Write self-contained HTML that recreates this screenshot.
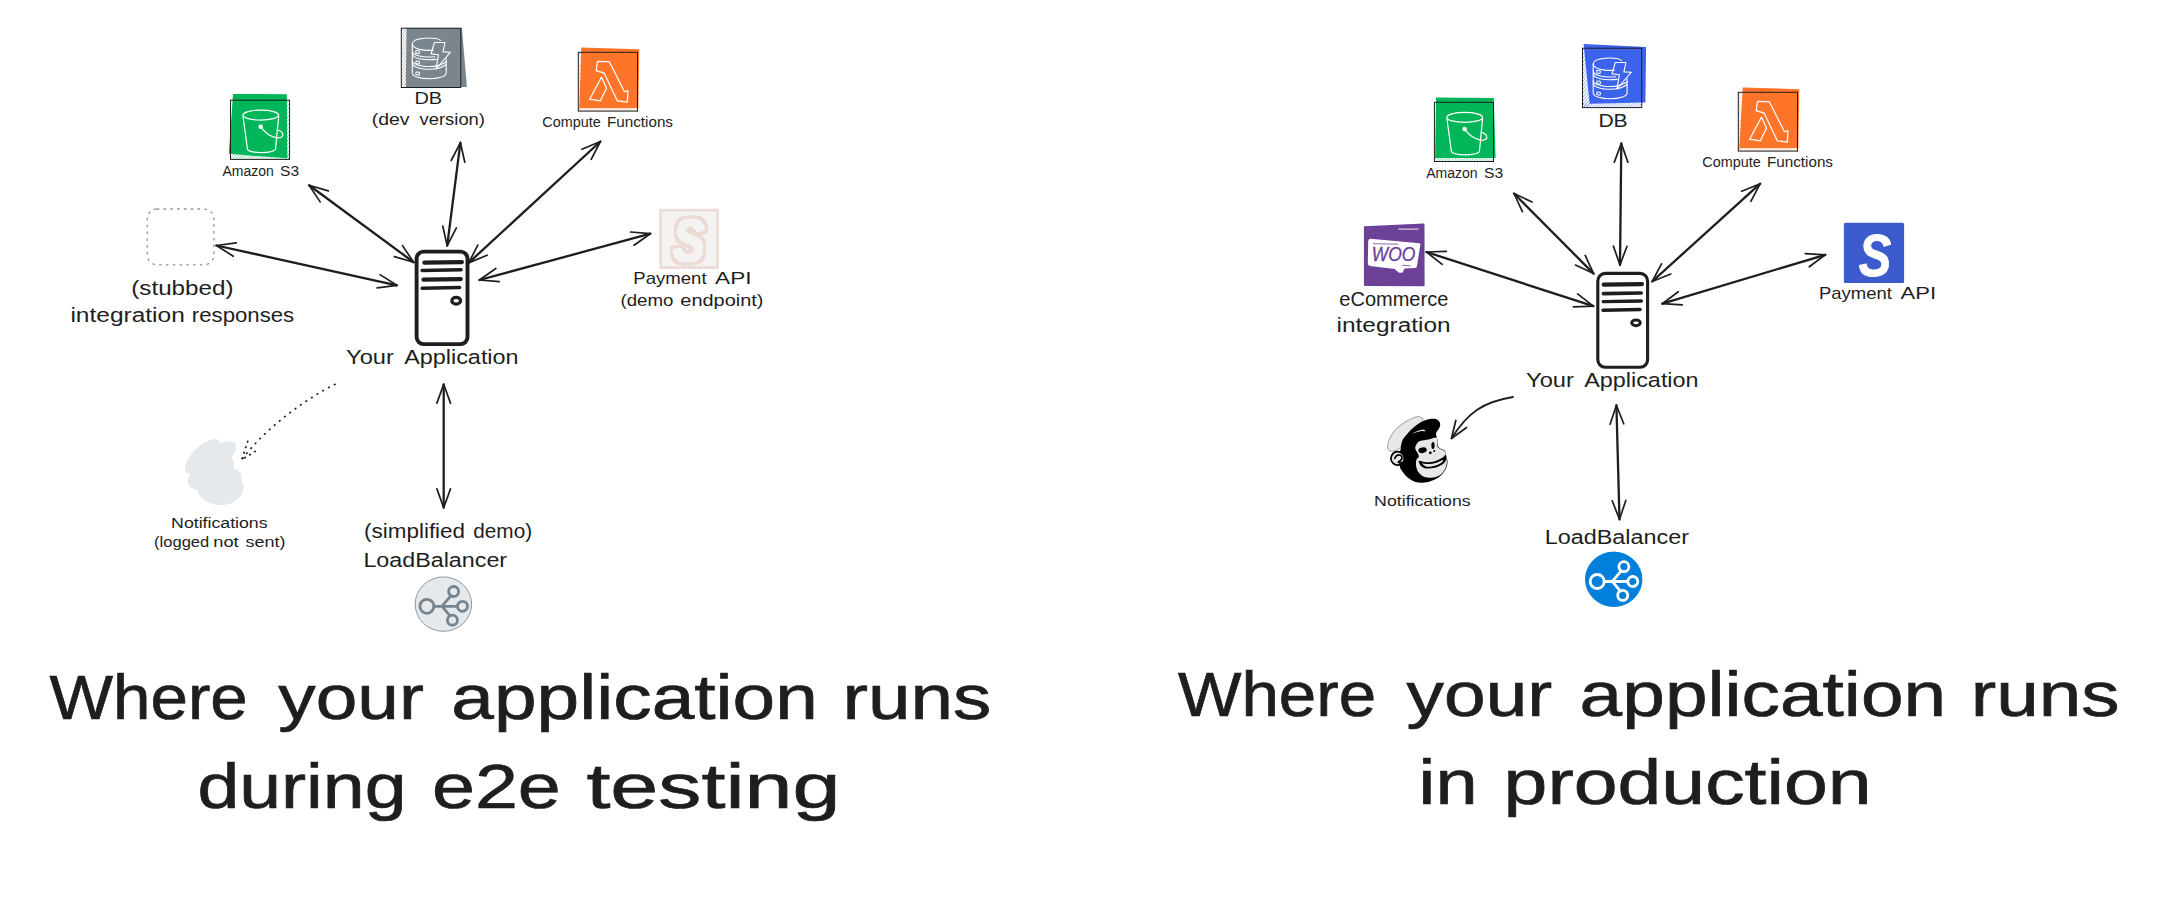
<!DOCTYPE html>
<html><head><meta charset="utf-8"><title>Where your application runs</title>
<style>
html,body{margin:0;padding:0;background:#fff;}
body{width:2182px;height:906px;overflow:hidden;}
svg{display:block;font-family:"Liberation Sans","DejaVu Sans",sans-serif;}
</style></head><body>
<svg width="2182" height="906" viewBox="0 0 2182 906">
<rect width="2182" height="906" fill="#fff"/>
<clipPath id="hc1"><rect x="230.5" y="153.0" width="59.5" height="6.5"/></clipPath>
<path d="M224.0 159.5L228.9 153.0M226.9 159.5L231.8 153.0M229.8 159.5L234.7 153.0M232.7 159.5L237.6 153.0M235.6 159.5L240.5 153.0M238.5 159.5L243.4 153.0M241.4 159.5L246.3 153.0M244.3 159.5L249.2 153.0M247.2 159.5L252.1 153.0M250.1 159.5L255.0 153.0M253.0 159.5L257.9 153.0M255.9 159.5L260.8 153.0M258.8 159.5L263.7 153.0M261.7 159.5L266.6 153.0M264.6 159.5L269.5 153.0M267.5 159.5L272.4 153.0M270.4 159.5L275.3 153.0M273.3 159.5L278.2 153.0M276.2 159.5L281.1 153.0M279.1 159.5L284.0 153.0M282.0 159.5L286.9 153.0M284.9 159.5L289.8 153.0M287.8 159.5L292.7 153.0" stroke="#01b658" stroke-width="1" stroke-opacity="0.5" clip-path="url(#hc1)" fill="none"/>
<clipPath id="hc2"><rect x="286.5" y="100.0" width="3.5" height="59.5"/></clipPath>
<path d="M227.0 159.5L271.6 100.0M229.9 159.5L274.5 100.0M232.8 159.5L277.4 100.0M235.7 159.5L280.3 100.0M238.6 159.5L283.2 100.0M241.5 159.5L286.1 100.0M244.4 159.5L289.0 100.0M247.3 159.5L291.9 100.0M250.2 159.5L294.8 100.0M253.1 159.5L297.7 100.0M256.0 159.5L300.6 100.0M258.9 159.5L303.5 100.0M261.8 159.5L306.4 100.0M264.7 159.5L309.3 100.0M267.6 159.5L312.2 100.0M270.5 159.5L315.1 100.0M273.4 159.5L318.0 100.0M276.3 159.5L320.9 100.0M279.2 159.5L323.8 100.0M282.1 159.5L326.7 100.0M285.0 159.5L329.6 100.0M287.9 159.5L332.5 100.0" stroke="#01b658" stroke-width="1" stroke-opacity="0.5" clip-path="url(#hc2)" fill="none"/>
<polygon points="233,94 286.8,94.2 287.3,158.3 228.8,153.8" fill="#01b658"/>
<rect x="230.5" y="100.2" width="59.1" height="59.2" fill="none" stroke="#1e1e1e" stroke-width="1"/>
<g transform="translate(230.5 100.0)" fill="none" stroke="#fff" stroke-width="1.2" stroke-linecap="round" stroke-linejoin="round">
<ellipse cx="30.3" cy="15.1" rx="17.9" ry="5"/>
<path d="M12.5 16.2L17 49.3C20 53.6 41.5 53.6 45 49.3L48.2 16.2"/>
<circle cx="30.2" cy="26.8" r="2.3" fill="#fff" stroke="none"/>
<path d="M30.2 26.8C34 32 40 36.5 45.6 37.6C50 38.4 53 37 52.3 34C51.6 31.6 49 30.3 46.6 30"/>
</g>
<text y="175.5" font-size="13.8" fill="#1e1e1e" ><tspan x="222.5" textLength="51.3" lengthAdjust="spacingAndGlyphs">Amazon</tspan> <tspan x="280.1" textLength="19.0" lengthAdjust="spacingAndGlyphs">S3</tspan></text>
<clipPath id="hc3"><rect x="401.3" y="28.2" width="5.7" height="59.3"/></clipPath>
<path d="M342.0 87.5L386.5 28.2M344.9 87.5L389.4 28.2M347.8 87.5L392.3 28.2M350.7 87.5L395.2 28.2M353.6 87.5L398.1 28.2M356.5 87.5L401.0 28.2M359.4 87.5L403.9 28.2M362.3 87.5L406.8 28.2M365.2 87.5L409.7 28.2M368.1 87.5L412.6 28.2M371.0 87.5L415.5 28.2M373.9 87.5L418.4 28.2M376.8 87.5L421.3 28.2M379.7 87.5L424.2 28.2M382.6 87.5L427.1 28.2M385.5 87.5L430.0 28.2M388.4 87.5L432.9 28.2M391.3 87.5L435.8 28.2M394.2 87.5L438.7 28.2M397.1 87.5L441.6 28.2M400.0 87.5L444.5 28.2M402.9 87.5L447.4 28.2M405.8 87.5L450.3 28.2" stroke="#7a858e" stroke-width="1" stroke-opacity="0.5" clip-path="url(#hc3)" fill="none"/>
<polygon points="406.6,28 461.9,28 466.9,86.9 405.8,86.9" fill="#7a858e"/>
<rect x="401.3" y="28.2" width="59.5" height="59.3" fill="none" stroke="#1e1e1e" stroke-width="1"/>
<g transform="translate(401.3 28.2)" fill="none" stroke="#fff" stroke-width="1.1" stroke-linejoin="round" stroke-linecap="round">
<path d="M11 15.9L11 44.6C11 52.6 44.9 52.6 44.9 44.6L44.9 30.5"/>
<path d="M39.4 12.2C34 8.6 11 8.8 11 15.9C11 20.5 22 23 32 21.9"/>
<path d="M11 22.6C11 27.5 22 29.6 33.5 28.6"/>
<path d="M11 25C11 30.4 22 32.4 35 31.2"/>
<path d="M11 32.4C11 39 35 41 44.9 33.5"/>
<path d="M11 34.8C11 41.8 35 43.8 44.9 36.3"/>
<rect x="14.6" y="22.3" width="3.6" height="2.8" rx="0.8" transform="rotate(8 16 23)"/><rect x="14.6" y="32.9" width="3.6" height="2.8" rx="0.8" transform="rotate(8 16 34)"/><rect x="14.6" y="43.9" width="3.6" height="2.8" rx="0.8" transform="rotate(8 16 45)"/>
<path d="M33.1 14.3L43.7 14.3L41.7 23.7L49 24.1L34.7 40.8L37.2 26.6L29.8 25.7Z"/>
</g>
<text x="414.4" y="104.3" font-size="17" textLength="27.7" lengthAdjust="spacingAndGlyphs" fill="#1e1e1e" >DB</text>
<text y="125.3" font-size="17" fill="#1e1e1e" ><tspan x="371.7" textLength="37.8" lengthAdjust="spacingAndGlyphs">(dev</tspan> <tspan x="419.5" textLength="65.5" lengthAdjust="spacingAndGlyphs">version)</tspan></text>
<clipPath id="hc4"><rect x="578.3" y="107.8" width="59.2" height="3.3"/></clipPath>
<path d="M575.0 111.1L577.5 107.8M577.9 111.1L580.4 107.8M580.8 111.1L583.3 107.8M583.7 111.1L586.2 107.8M586.6 111.1L589.1 107.8M589.5 111.1L592.0 107.8M592.4 111.1L594.9 107.8M595.3 111.1L597.8 107.8M598.2 111.1L600.7 107.8M601.1 111.1L603.6 107.8M604.0 111.1L606.5 107.8M606.9 111.1L609.4 107.8M609.8 111.1L612.3 107.8M612.7 111.1L615.2 107.8M615.6 111.1L618.1 107.8M618.5 111.1L621.0 107.8M621.4 111.1L623.9 107.8M624.3 111.1L626.8 107.8M627.2 111.1L629.7 107.8M630.1 111.1L632.6 107.8M633.0 111.1L635.5 107.8M635.9 111.1L638.4 107.8" stroke="#fe7429" stroke-width="1" stroke-opacity="0.5" clip-path="url(#hc4)" fill="none"/>
<clipPath id="hc5"><rect x="578.3" y="52.3" width="2.2" height="58.8"/></clipPath>
<path d="M519.5 111.1L563.6 52.3M522.4 111.1L566.5 52.3M525.3 111.1L569.4 52.3M528.2 111.1L572.3 52.3M531.1 111.1L575.2 52.3M534.0 111.1L578.1 52.3M536.9 111.1L581.0 52.3M539.8 111.1L583.9 52.3M542.7 111.1L586.8 52.3M545.6 111.1L589.7 52.3M548.5 111.1L592.6 52.3M551.4 111.1L595.5 52.3M554.3 111.1L598.4 52.3M557.2 111.1L601.3 52.3M560.1 111.1L604.2 52.3M563.0 111.1L607.1 52.3M565.9 111.1L610.0 52.3M568.8 111.1L612.9 52.3M571.7 111.1L615.8 52.3M574.6 111.1L618.7 52.3M577.5 111.1L621.6 52.3M580.4 111.1L624.5 52.3" stroke="#fe7429" stroke-width="1" stroke-opacity="0.5" clip-path="url(#hc5)" fill="none"/>
<polygon points="581.3,47.5 639.3,49.2 638.3,108.1 579.3,108.1" fill="#fe7429"/>
<rect x="578.3" y="52.3" width="59.2" height="58.8" fill="none" stroke="#1e1e1e" stroke-width="1"/>
<g transform="translate(578.3 52.3)" fill="none" stroke="#fff" stroke-width="1.2" stroke-linejoin="round">
<path d="M19.2 9.1L31.1 9.5L46 39.3L49.7 38.6L49 49.9L39.1 48.6L25.8 20.8L17.9 18.3Z"/>
<path d="M23.2 24.8L28.2 36L21.9 48.6L11.3 46.9Z"/>
</g>
<text y="126.5" font-size="13.8" fill="#1e1e1e" ><tspan x="542.3" textLength="58.5" lengthAdjust="spacingAndGlyphs">Compute</tspan> <tspan x="606.9" textLength="66.1" lengthAdjust="spacingAndGlyphs">Functions</tspan></text>
<rect x="147.2" y="209" width="66.7" height="55.8" rx="10" ry="10" fill="none" stroke="#8493a0" stroke-width="1.3" stroke-dasharray="1.6 5.2" stroke-linecap="round"/>
<text x="131.3" y="295.1" font-size="19.5" textLength="102.2" lengthAdjust="spacingAndGlyphs" fill="#1e1e1e" >(stubbed)</text>
<text y="321.6" font-size="19.5" fill="#1e1e1e" ><tspan x="70.4" textLength="114.4" lengthAdjust="spacingAndGlyphs">integration</tspan> <tspan x="191.8" textLength="102.4" lengthAdjust="spacingAndGlyphs">responses</tspan></text>
<rect x="660.7" y="210.2" width="56.8" height="57.3" fill="#f5f3f2" stroke="#ecdcd6" stroke-width="2.8"/>
<filter id="fatS" x="-30%" y="-30%" width="160%" height="160%"><feMorphology in="SourceAlpha" operator="dilate" radius="3.6" result="o"/><feGaussianBlur in="o" stdDeviation="0.6" result="ob"/><feComponentTransfer in="ob" result="oc"><feFuncA type="linear" slope="6" intercept="-2.5"/></feComponentTransfer><feFlood flood-color="#ecdad4"/><feComposite in2="oc" operator="in" result="ring"/><feMorphology in="SourceAlpha" operator="dilate" radius="0.9" result="i"/><feGaussianBlur in="i" stdDeviation="0.5" result="ib"/><feComponentTransfer in="ib" result="ic"><feFuncA type="linear" slope="6" intercept="-2.5"/></feComponentTransfer><feFlood flood-color="#f5f3f2"/><feComposite in2="ic" operator="in" result="body"/><feMerge><feMergeNode in="ring"/><feMergeNode in="body"/></feMerge></filter>
<text x="673.6" y="260.9" font-size="59.5" textLength="30.9" lengthAdjust="spacingAndGlyphs" fill="#f5f3f2" font-weight="bold" font-style="italic" filter="url(#fatS)">S</text>
<text y="284.3" font-size="17" fill="#1e1e1e" ><tspan x="633.3" textLength="73.3" lengthAdjust="spacingAndGlyphs">Payment</tspan> <tspan x="715.1" textLength="36.5" lengthAdjust="spacingAndGlyphs">API</tspan></text>
<text y="305.9" font-size="17" fill="#1e1e1e" ><tspan x="620.5" textLength="52.9" lengthAdjust="spacingAndGlyphs">(demo</tspan> <tspan x="680.3" textLength="83.2" lengthAdjust="spacingAndGlyphs">endpoint)</tspan></text>
<path d="M309.1 185.3L413.6 262.2" fill="none" stroke="#1e1e1e" stroke-width="2.3" stroke-linecap="round"/>
<path d="M394.4 256.6L413.6 262.2L402.5 245.6M328.3 190.9L309.1 185.3L320.2 201.9" fill="none" stroke="#1e1e1e" stroke-width="1.7" stroke-linecap="round" stroke-linejoin="round"/>
<path d="M460.4 142.7L447.2 245.7" fill="none" stroke="#1e1e1e" stroke-width="2.3" stroke-linecap="round"/>
<path d="M442.8 226.2L447.2 245.7L456.4 227.9M464.8 162.2L460.4 142.7L451.2 160.5" fill="none" stroke="#1e1e1e" stroke-width="1.7" stroke-linecap="round" stroke-linejoin="round"/>
<path d="M600.4 141.5L468.6 262.9" fill="none" stroke="#1e1e1e" stroke-width="2.3" stroke-linecap="round"/>
<path d="M477.8 245.1L468.6 262.9L487.1 255.2M591.2 159.3L600.4 141.5L581.9 149.2" fill="none" stroke="#1e1e1e" stroke-width="1.7" stroke-linecap="round" stroke-linejoin="round"/>
<path d="M650.4 233.7L479.4 280.0" fill="none" stroke="#1e1e1e" stroke-width="2.3" stroke-linecap="round"/>
<path d="M495.8 268.5L479.4 280.0L499.3 281.7M634.0 245.2L650.4 233.7L630.5 232.0" fill="none" stroke="#1e1e1e" stroke-width="1.7" stroke-linecap="round" stroke-linejoin="round"/>
<path d="M216.4 245.5L396.9 285.3" fill="none" stroke="#1e1e1e" stroke-width="2.3" stroke-linecap="round"/>
<path d="M377.1 287.9L396.9 285.3L380.0 274.6M236.2 242.9L216.4 245.5L233.3 256.2" fill="none" stroke="#1e1e1e" stroke-width="1.7" stroke-linecap="round" stroke-linejoin="round"/>
<g stroke="#1e1e1e" fill="none" stroke-linecap="round">
<rect x="416.6" y="251.6" width="50.9" height="92.5" rx="7.0" stroke-width="3.9" fill="#fff"/>
<line x1="424.4" y1="262.7" x2="461.9" y2="262.1" stroke-width="4.2"/>
<line x1="422.1" y1="270.4" x2="461.1" y2="269.8" stroke-width="3.5"/>
<line x1="423.5" y1="279.7" x2="460.8" y2="279.1" stroke-width="4.2"/>
<line x1="422.1" y1="288.2" x2="459.6" y2="287.6" stroke-width="3.5"/>
<ellipse cx="456.2" cy="300.7" rx="4.4" ry="3.4" stroke-width="3.2"/>
</g>
<text y="364.1" font-size="20.5" fill="#1e1e1e" ><tspan x="346.1" textLength="47.8" lengthAdjust="spacingAndGlyphs">Your</tspan> <tspan x="404.2" textLength="114.4" lengthAdjust="spacingAndGlyphs">Application</tspan></text>
<path d="M335 384.3C300 402 262 432 241.7 459.8" fill="none" stroke="#1e1e1e" stroke-width="1.7" stroke-dasharray="0.6 6" stroke-linecap="round"/>
<path d="M247.7 441.3L241.7 459.8L258.2 449.5" fill="none" stroke="#1e1e1e" stroke-width="1.7" stroke-dasharray="0.6 5.2" stroke-linecap="round"/>
<path d="M184.90 468.57C185.18 466.45 185.91 462.86 187.66 459.74C189.41 456.61 192.44 452.74 195.39 449.80C198.33 446.86 202.19 443.88 205.32 442.08C208.45 440.27 211.94 439.26 214.15 438.98C216.36 438.71 217.46 439.81 218.57 440.42C219.67 441.03 219.30 442.44 220.77 442.63C222.24 442.81 225.19 441.62 227.40 441.52C229.60 441.43 232.55 441.25 234.02 442.08C235.49 442.90 236.04 444.83 236.23 446.49C236.41 448.15 235.86 450.26 235.12 452.01C234.39 453.76 232.03 455.32 231.81 456.98C231.59 458.63 233.43 460.01 233.80 461.94C234.16 463.87 232.88 466.73 234.02 468.57C235.16 470.40 239.35 470.77 240.64 472.98C241.93 475.19 241.23 479.60 241.74 481.81C242.26 484.02 243.73 484.20 243.73 486.23C243.73 488.25 243.18 491.47 241.74 493.95C240.31 496.43 237.88 499.32 235.12 501.13C232.36 502.93 228.68 504.22 225.19 504.77C221.69 505.32 217.46 505.14 214.15 504.44C210.84 503.74 207.80 502.14 205.32 500.57C202.84 499.01 200.54 496.71 199.25 495.06C197.96 493.40 199.07 491.93 197.59 490.64C196.12 489.35 192.08 488.80 190.42 487.33C188.76 485.86 187.94 483.65 187.66 481.81C187.38 479.97 188.30 477.58 188.76 476.29C189.22 475.00 190.88 474.73 190.42 474.08C189.96 473.44 186.92 473.35 186.00 472.43C185.08 471.51 184.62 470.68 184.90 468.57Z" fill="#e6e9ec"/>
<text x="171.1" y="528.3" font-size="14" textLength="96.5" lengthAdjust="spacingAndGlyphs" fill="#1e1e1e" >Notifications</text>
<text y="547.2" font-size="14" fill="#1e1e1e" ><tspan x="154.1" textLength="55.1" lengthAdjust="spacingAndGlyphs">(logged</tspan> <tspan x="213.3" textLength="25.4" lengthAdjust="spacingAndGlyphs">not</tspan> <tspan x="245.5" textLength="39.9" lengthAdjust="spacingAndGlyphs">sent)</tspan></text>
<path d="M443.7 384.3L443.7 507.7" fill="none" stroke="#1e1e1e" stroke-width="2.3" stroke-linecap="round"/>
<path d="M436.9 488.9L443.7 507.7L450.5 488.9M450.5 403.1L443.7 384.3L436.9 403.1" fill="none" stroke="#1e1e1e" stroke-width="1.7" stroke-linecap="round" stroke-linejoin="round"/>
<text y="538.4" font-size="19.5" fill="#1e1e1e" ><tspan x="364.0" textLength="101.1" lengthAdjust="spacingAndGlyphs">(simplified</tspan> <tspan x="473.3" textLength="58.8" lengthAdjust="spacingAndGlyphs">demo)</tspan></text>
<text x="363.4" y="566.5" font-size="19.5" textLength="143.7" lengthAdjust="spacingAndGlyphs" fill="#1e1e1e" >LoadBalancer</text>
<g transform="translate(443.4 604.1)">
<ellipse cx="0" cy="0" rx="28.2" ry="27.2" fill="#e5e9ec" stroke="#8c98a3" stroke-width="1"/>
<g fill="none" stroke="#77848f" stroke-width="2.8" stroke-linecap="round">
<circle cx="-16.5" cy="2.2" r="7"/>
<circle cx="10.2" cy="-12.6" r="5"/><circle cx="19.1" cy="2.2" r="5"/><circle cx="9" cy="16.1" r="5"/>
<path d="M-9.5 2.2L14 2.2M-1.4 2L7.6 -8.4M-1.4 2L6.6 11.8"/>
</g></g>
<text y="719.3" font-size="63" fill="#1e1e1e" stroke="#1e1e1e" stroke-width="0.7"><tspan x="49.6" textLength="198.2" lengthAdjust="spacingAndGlyphs">Where</tspan> <tspan x="278.3" textLength="145.6" lengthAdjust="spacingAndGlyphs">your</tspan> <tspan x="451.3" textLength="366.6" lengthAdjust="spacingAndGlyphs">application</tspan> <tspan x="842.5" textLength="148.8" lengthAdjust="spacingAndGlyphs">runs</tspan></text>
<text y="807.6" font-size="63" fill="#1e1e1e" stroke="#1e1e1e" stroke-width="0.7"><tspan x="197.4" textLength="209.1" lengthAdjust="spacingAndGlyphs">during</tspan> <tspan x="432.0" textLength="128.8" lengthAdjust="spacingAndGlyphs">e2e</tspan> <tspan x="586.4" textLength="254.1" lengthAdjust="spacingAndGlyphs">testing</tspan></text>
<clipPath id="hc6"><rect x="1434.4" y="157.5" width="59.6" height="4.0"/></clipPath>
<path d="M1430.4 161.5L1433.4 157.5M1433.3 161.5L1436.3 157.5M1436.2 161.5L1439.2 157.5M1439.1 161.5L1442.1 157.5M1442.0 161.5L1445.0 157.5M1444.9 161.5L1447.9 157.5M1447.8 161.5L1450.8 157.5M1450.7 161.5L1453.7 157.5M1453.6 161.5L1456.6 157.5M1456.5 161.5L1459.5 157.5M1459.4 161.5L1462.4 157.5M1462.3 161.5L1465.3 157.5M1465.2 161.5L1468.2 157.5M1468.1 161.5L1471.1 157.5M1471.0 161.5L1474.0 157.5M1473.9 161.5L1476.9 157.5M1476.8 161.5L1479.8 157.5M1479.7 161.5L1482.7 157.5M1482.6 161.5L1485.6 157.5M1485.5 161.5L1488.5 157.5M1488.4 161.5L1491.4 157.5M1491.3 161.5L1494.3 157.5" stroke="#01b658" stroke-width="1" stroke-opacity="0.5" clip-path="url(#hc6)" fill="none"/>
<polygon points="1436,97.5 1493.8,97.9 1495.6,158.1 1435.1,157.9" fill="#01b658"/>
<rect x="1434.4" y="102.3" width="59.1" height="59.2" fill="none" stroke="#1e1e1e" stroke-width="1"/>
<g transform="translate(1434.4 102.3)" fill="none" stroke="#fff" stroke-width="1.2" stroke-linecap="round" stroke-linejoin="round">
<ellipse cx="30.3" cy="15.1" rx="17.9" ry="5"/>
<path d="M12.5 16.2L17 49.3C20 53.6 41.5 53.6 45 49.3L48.2 16.2"/>
<circle cx="30.2" cy="26.8" r="2.3" fill="#fff" stroke="none"/>
<path d="M30.2 26.8C34 32 40 36.5 45.6 37.6C50 38.4 53 37 52.3 34C51.6 31.6 49 30.3 46.6 30"/>
</g>
<text y="177.6" font-size="13.8" fill="#1e1e1e" ><tspan x="1426.2" textLength="51.5" lengthAdjust="spacingAndGlyphs">Amazon</tspan> <tspan x="1484.1" textLength="19.2" lengthAdjust="spacingAndGlyphs">S3</tspan></text>
<clipPath id="hc7"><rect x="1582.2" y="48.2" width="7.8" height="59.5"/></clipPath>
<path d="M1522.7 107.7L1567.3 48.2M1525.6 107.7L1570.2 48.2M1528.5 107.7L1573.1 48.2M1531.4 107.7L1576.0 48.2M1534.3 107.7L1578.9 48.2M1537.2 107.7L1581.8 48.2M1540.1 107.7L1584.7 48.2M1543.0 107.7L1587.6 48.2M1545.9 107.7L1590.5 48.2M1548.8 107.7L1593.4 48.2M1551.7 107.7L1596.3 48.2M1554.6 107.7L1599.2 48.2M1557.5 107.7L1602.1 48.2M1560.4 107.7L1605.0 48.2M1563.3 107.7L1607.9 48.2M1566.2 107.7L1610.8 48.2M1569.1 107.7L1613.7 48.2M1572.0 107.7L1616.6 48.2M1574.9 107.7L1619.5 48.2M1577.8 107.7L1622.4 48.2M1580.7 107.7L1625.3 48.2M1583.6 107.7L1628.2 48.2M1586.5 107.7L1631.1 48.2M1589.4 107.7L1634.0 48.2" stroke="#3c63ec" stroke-width="1" stroke-opacity="0.5" clip-path="url(#hc7)" fill="none"/>
<clipPath id="hc8"><rect x="1582.2" y="103.0" width="59.6" height="4.7"/></clipPath>
<path d="M1577.5 107.7L1581.0 103.0M1580.4 107.7L1583.9 103.0M1583.3 107.7L1586.8 103.0M1586.2 107.7L1589.7 103.0M1589.1 107.7L1592.6 103.0M1592.0 107.7L1595.5 103.0M1594.9 107.7L1598.4 103.0M1597.8 107.7L1601.3 103.0M1600.7 107.7L1604.2 103.0M1603.6 107.7L1607.1 103.0M1606.5 107.7L1610.0 103.0M1609.4 107.7L1612.9 103.0M1612.3 107.7L1615.8 103.0M1615.2 107.7L1618.7 103.0M1618.1 107.7L1621.6 103.0M1621.0 107.7L1624.5 103.0M1623.9 107.7L1627.4 103.0M1626.8 107.7L1630.3 103.0M1629.7 107.7L1633.2 103.0M1632.6 107.7L1636.1 103.0M1635.5 107.7L1639.0 103.0M1638.4 107.7L1641.9 103.0M1641.3 107.7L1644.8 103.0" stroke="#3c63ec" stroke-width="1" stroke-opacity="0.5" clip-path="url(#hc8)" fill="none"/>
<polygon points="1583.6,44.1 1646.1,47 1645.4,102.5 1589.7,103.8" fill="#3c63ec"/>
<rect x="1582.5" y="48.2" width="59.2" height="59.4" fill="none" stroke="#1e1e1e" stroke-width="1"/>
<g transform="translate(1582.2 48.2)" fill="none" stroke="#fff" stroke-width="1.1" stroke-linejoin="round" stroke-linecap="round">
<path d="M11 15.9L11 44.6C11 52.6 44.9 52.6 44.9 44.6L44.9 30.5"/>
<path d="M39.4 12.2C34 8.6 11 8.8 11 15.9C11 20.5 22 23 32 21.9"/>
<path d="M11 22.6C11 27.5 22 29.6 33.5 28.6"/>
<path d="M11 25C11 30.4 22 32.4 35 31.2"/>
<path d="M11 32.4C11 39 35 41 44.9 33.5"/>
<path d="M11 34.8C11 41.8 35 43.8 44.9 36.3"/>
<rect x="14.6" y="22.3" width="3.6" height="2.8" rx="0.8" transform="rotate(8 16 23)"/><rect x="14.6" y="32.9" width="3.6" height="2.8" rx="0.8" transform="rotate(8 16 34)"/><rect x="14.6" y="43.9" width="3.6" height="2.8" rx="0.8" transform="rotate(8 16 45)"/>
<path d="M33.1 14.3L43.7 14.3L41.7 23.7L49 24.1L34.7 40.8L37.2 26.6L29.8 25.7Z"/>
</g>
<text x="1598.4" y="126.6" font-size="18" textLength="29.3" lengthAdjust="spacingAndGlyphs" fill="#1e1e1e" >DB</text>
<clipPath id="hc9"><rect x="1738.3" y="147.8" width="59.2" height="3.3"/></clipPath>
<path d="M1735.0 151.1L1737.5 147.8M1737.9 151.1L1740.4 147.8M1740.8 151.1L1743.3 147.8M1743.7 151.1L1746.2 147.8M1746.6 151.1L1749.1 147.8M1749.5 151.1L1752.0 147.8M1752.4 151.1L1754.9 147.8M1755.3 151.1L1757.8 147.8M1758.2 151.1L1760.7 147.8M1761.1 151.1L1763.6 147.8M1764.0 151.1L1766.5 147.8M1766.9 151.1L1769.4 147.8M1769.8 151.1L1772.3 147.8M1772.7 151.1L1775.2 147.8M1775.6 151.1L1778.1 147.8M1778.5 151.1L1781.0 147.8M1781.4 151.1L1783.9 147.8M1784.3 151.1L1786.8 147.8M1787.2 151.1L1789.7 147.8M1790.1 151.1L1792.6 147.8M1793.0 151.1L1795.5 147.8M1795.9 151.1L1798.4 147.8" stroke="#fe7429" stroke-width="1" stroke-opacity="0.5" clip-path="url(#hc9)" fill="none"/>
<clipPath id="hc10"><rect x="1738.3" y="92.3" width="2.2" height="58.8"/></clipPath>
<path d="M1679.5 151.1L1723.6 92.3M1682.4 151.1L1726.5 92.3M1685.3 151.1L1729.4 92.3M1688.2 151.1L1732.3 92.3M1691.1 151.1L1735.2 92.3M1694.0 151.1L1738.1 92.3M1696.9 151.1L1741.0 92.3M1699.8 151.1L1743.9 92.3M1702.7 151.1L1746.8 92.3M1705.6 151.1L1749.7 92.3M1708.5 151.1L1752.6 92.3M1711.4 151.1L1755.5 92.3M1714.3 151.1L1758.4 92.3M1717.2 151.1L1761.3 92.3M1720.1 151.1L1764.2 92.3M1723.0 151.1L1767.1 92.3M1725.9 151.1L1770.0 92.3M1728.8 151.1L1772.9 92.3M1731.7 151.1L1775.8 92.3M1734.6 151.1L1778.7 92.3M1737.5 151.1L1781.6 92.3M1740.4 151.1L1784.5 92.3" stroke="#fe7429" stroke-width="1" stroke-opacity="0.5" clip-path="url(#hc10)" fill="none"/>
<polygon points="1742.7,87.5 1799.3,89.2 1798.3,148.1 1739.3,148.1" fill="#fe7429"/>
<rect x="1738.3" y="92.3" width="59.2" height="58.8" fill="none" stroke="#1e1e1e" stroke-width="1"/>
<g transform="translate(1738.3 92.3)" fill="none" stroke="#fff" stroke-width="1.2" stroke-linejoin="round">
<path d="M19.2 9.1L31.1 9.5L46 39.3L49.7 38.6L49 49.9L39.1 48.6L25.8 20.8L17.9 18.3Z"/>
<path d="M23.2 24.8L28.2 36L21.9 48.6L11.3 46.9Z"/>
</g>
<text y="166.6" font-size="13.8" fill="#1e1e1e" ><tspan x="1702.3" textLength="58.5" lengthAdjust="spacingAndGlyphs">Compute</tspan> <tspan x="1766.9" textLength="66.1" lengthAdjust="spacingAndGlyphs">Functions</tspan></text>
<path d="M1364.7 227L1423.7 224.4L1423.8 285.5L1364.7 285.1Z" fill="#6d4197" stroke="#6d4197" stroke-width="1.6" stroke-linejoin="round"/>
<path d="M1398.3 229.1L1418.6 229.1" stroke="#fff" stroke-width="0.9"/>
<path d="M1370.6 238.7L1419.3 243.2Q1420.6 243.4 1420.4 244.6L1416.9 266.4Q1416.6 267.8 1415.2 267.9L1404.6 268.4L1403 271.8Q1402.6 272.7 1401.4 272.7L1399.6 272.7Q1398.7 272.7 1398 272L1394.7 268.9L1370.1 266Q1368 265.6 1367.8 263.4L1368.2 241.5Q1368.4 238.6 1370.6 238.7Z" fill="#fff"/>
<text x="1371.8" y="261.4" font-size="19.8" textLength="43.6" lengthAdjust="spacingAndGlyphs" fill="#6d4197" font-style="italic" stroke="#6d4197" stroke-width="0.3">WOO</text>
<path d="M1372.7 243.7L1398.3 244.2M1402.2 265.3L1410.6 265.8" stroke="#6d4197" stroke-width="0.8" fill="none"/>
<text x="1339.3" y="305.8" font-size="19.5" textLength="109.0" lengthAdjust="spacingAndGlyphs" fill="#1e1e1e" >eCommerce</text>
<text x="1336.6" y="332.1" font-size="19.5" textLength="114.0" lengthAdjust="spacingAndGlyphs" fill="#1e1e1e" >integration</text>
<rect x="1843.9" y="222.8" width="60.2" height="60.3" rx="1.5" fill="#3c5ccd"/>
<text x="1858.7" y="276.0" font-size="60" textLength="32.5" lengthAdjust="spacingAndGlyphs" fill="#fff" font-weight="bold" font-style="italic" stroke="#fff" stroke-width="0.9" stroke-linejoin="round">S</text>
<text y="299.0" font-size="17" fill="#1e1e1e" ><tspan x="1819.0" textLength="72.9" lengthAdjust="spacingAndGlyphs">Payment</tspan> <tspan x="1900.6" textLength="35.6" lengthAdjust="spacingAndGlyphs">API</tspan></text>
<path d="M1514.0 193.5L1593.6 273.6" fill="none" stroke="#1e1e1e" stroke-width="2.3" stroke-linecap="round"/>
<path d="M1575.5 265.1L1593.6 273.6L1585.2 255.4M1532.1 202.0L1514.0 193.5L1522.4 211.7" fill="none" stroke="#1e1e1e" stroke-width="1.7" stroke-linecap="round" stroke-linejoin="round"/>
<path d="M1621.3 143.4L1620.0 265.0" fill="none" stroke="#1e1e1e" stroke-width="2.3" stroke-linecap="round"/>
<path d="M1613.4 246.1L1620.0 265.0L1627.0 246.3M1627.9 162.3L1621.3 143.4L1614.3 162.1" fill="none" stroke="#1e1e1e" stroke-width="1.7" stroke-linecap="round" stroke-linejoin="round"/>
<path d="M1760.2 183.7L1652.2 281.5" fill="none" stroke="#1e1e1e" stroke-width="2.3" stroke-linecap="round"/>
<path d="M1661.5 263.8L1652.2 281.5L1670.7 274.0M1750.9 201.4L1760.2 183.7L1741.7 191.2" fill="none" stroke="#1e1e1e" stroke-width="1.7" stroke-linecap="round" stroke-linejoin="round"/>
<path d="M1825.3 254.8L1662.3 303.7" fill="none" stroke="#1e1e1e" stroke-width="2.3" stroke-linecap="round"/>
<path d="M1678.3 291.7L1662.3 303.7L1682.3 304.9M1809.3 266.8L1825.3 254.8L1805.3 253.6" fill="none" stroke="#1e1e1e" stroke-width="1.7" stroke-linecap="round" stroke-linejoin="round"/>
<path d="M1426.4 252.0L1593.4 306.2" fill="none" stroke="#1e1e1e" stroke-width="2.3" stroke-linecap="round"/>
<path d="M1573.4 306.9L1593.4 306.2L1577.6 293.9M1446.4 251.3L1426.4 252.0L1442.2 264.3" fill="none" stroke="#1e1e1e" stroke-width="1.7" stroke-linecap="round" stroke-linejoin="round"/>
<g stroke="#1e1e1e" fill="none" stroke-linecap="round">
<rect x="1597.8" y="273.4" width="49.8" height="93.9" rx="7.5" stroke-width="3.1" fill="#fff"/>
<line x1="1603.7" y1="284.7" x2="1642.0" y2="284.1" stroke-width="4.2"/>
<line x1="1603.4" y1="293.6" x2="1641.2" y2="293.0" stroke-width="3.6"/>
<line x1="1603.3" y1="301.6" x2="1641.3" y2="301.0" stroke-width="3.4"/>
<line x1="1603.0" y1="310.2" x2="1640.0" y2="309.6" stroke-width="3.5"/>
<ellipse cx="1636.0" cy="322.8" rx="4.3" ry="2.9" stroke-width="3"/>
</g>
<text y="387.4" font-size="20.5" fill="#1e1e1e" ><tspan x="1526.1" textLength="47.8" lengthAdjust="spacingAndGlyphs">Your</tspan> <tspan x="1584.2" textLength="114.4" lengthAdjust="spacingAndGlyphs">Application</tspan></text>
<path d="M1513 397C1483 402 1468 412 1451.5 438.4" fill="none" stroke="#1e1e1e" stroke-width="1.8" stroke-linecap="round"/>
<path d="M1455.8 420.5L1451.5 438.4L1466.6 427.6" fill="none" stroke="#1e1e1e" stroke-width="1.8" stroke-linecap="round" stroke-linejoin="round"/>
<g>
<path d="M1387.59 448.15C1387.15 447.06 1387.45 446.14 1387.77 444.61C1388.09 443.08 1388.18 441.52 1389.54 438.96C1390.89 436.40 1393.07 432.19 1395.89 429.25C1398.72 426.31 1402.96 423.39 1406.49 421.30C1410.02 419.21 1414.61 417.30 1417.09 416.71C1419.56 416.12 1420.35 417.18 1421.32 417.77C1422.30 418.36 1423.91 418.59 1422.91 420.24C1421.91 421.89 1418.06 424.95 1415.32 427.66C1412.58 430.37 1408.92 433.25 1406.49 436.49C1404.06 439.73 1402.66 444.70 1400.75 447.09C1398.84 449.47 1396.73 450.12 1395.01 450.79C1393.29 451.47 1391.66 451.59 1390.42 451.15C1389.18 450.71 1388.04 449.23 1387.59 448.15Z" fill="#e7e7e7" stroke="#777" stroke-width="0.7"/>
<path d="M1422.38 421.48C1424.74 420.33 1427.09 419.37 1429.45 419.01C1431.80 418.64 1434.75 418.57 1436.51 419.27C1438.28 419.98 1439.57 421.77 1440.04 423.25C1440.52 424.72 1440.00 426.41 1439.34 428.10C1438.68 429.79 1436.39 431.56 1436.07 433.40C1435.75 435.24 1437.00 436.86 1437.40 439.14C1437.79 441.42 1437.20 445.14 1438.45 447.09C1439.71 449.03 1443.72 449.32 1444.90 450.79C1446.08 452.27 1445.08 454.18 1445.52 455.92C1445.96 457.65 1447.46 459.15 1447.55 461.21C1447.64 463.27 1447.15 465.89 1446.05 468.28C1444.94 470.66 1442.96 473.58 1440.93 475.52C1438.90 477.46 1436.66 478.76 1433.86 479.93C1431.07 481.11 1427.24 482.24 1424.15 482.58C1421.06 482.92 1418.12 482.85 1415.32 481.96C1412.52 481.08 1409.58 479.09 1407.37 477.28C1405.17 475.47 1403.33 472.90 1402.08 471.10C1400.82 469.31 1400.28 468.75 1399.87 466.51C1399.46 464.28 1399.50 460.48 1399.60 457.68C1399.71 454.89 1400.00 452.68 1400.49 449.74C1400.97 446.79 1401.07 443.04 1402.52 440.02C1403.96 437.01 1407.01 433.99 1409.14 431.63C1411.27 429.28 1413.11 427.59 1415.32 425.89C1417.53 424.20 1420.03 422.63 1422.38 421.48Z" fill="#000"/>
<circle cx="1397.66" cy="458.39" r="6.7" fill="#e7e7e7" stroke="#000" stroke-width="1.8"/>
<path d="M1394.83 458.39C1395.16 457.90 1395.84 456.00 1396.78 455.47C1397.72 454.94 1399.60 454.77 1400.49 455.21C1401.37 455.65 1402.13 457.20 1402.08 458.12C1402.02 459.05 1400.75 460.18 1400.13 460.77C1399.51 461.36 1398.45 461.29 1398.37 461.66C1398.28 462.02 1398.98 462.88 1399.60 462.98C1400.22 463.08 1401.66 462.39 1402.08 462.27" fill="none" stroke="#000" stroke-width="1.7" stroke-linecap="round"/>
<path d="M1415.32 448.85C1414.95 446.87 1415.84 445.32 1416.64 444.00C1417.45 442.67 1418.19 441.67 1420.18 440.91C1422.16 440.14 1425.87 439.96 1428.57 439.40C1431.26 438.84 1434.86 437.15 1436.34 437.55C1437.81 437.95 1437.12 440.13 1437.40 441.79C1437.67 443.45 1436.81 445.94 1438.01 447.53C1439.22 449.12 1443.44 449.93 1444.64 451.32C1445.83 452.72 1444.78 454.27 1445.17 455.92C1445.55 457.56 1446.87 459.23 1446.93 461.21C1446.99 463.20 1446.52 465.63 1445.52 467.84C1444.52 470.04 1443.02 472.84 1440.93 474.46C1438.84 476.08 1435.70 477.11 1432.98 477.55C1430.26 477.99 1426.95 477.89 1424.59 477.11C1422.24 476.33 1420.25 474.64 1418.85 472.87C1417.45 471.10 1416.62 468.68 1416.20 466.51C1415.79 464.35 1415.94 461.66 1416.38 459.89C1416.82 458.12 1419.03 457.76 1418.85 455.92C1418.68 454.08 1415.69 450.84 1415.32 448.85Z" fill="#e7e7e7"/>
<ellipse cx="1422.56" cy="450.18" rx="4.3" ry="2.8" fill="#000" transform="rotate(-12 1422.56 450.18)"/>
<ellipse cx="1432.98" cy="445.50" rx="1.6" ry="3.5" fill="#000"/>
<circle cx="1430.33" cy="452.83" r="1.4" fill="#000"/>
<circle cx="1434.22" cy="451.06" r="1" fill="#000"/>
<path d="M1418.85 460.77C1419.66 460.14 1423.27 462.20 1425.92 462.27C1428.57 462.35 1432.10 461.91 1434.75 461.21C1437.40 460.52 1439.97 459.15 1441.81 458.12C1443.65 457.09 1445.05 454.81 1445.78 455.03C1446.52 455.25 1446.74 457.90 1446.23 459.45C1445.71 460.99 1444.61 462.91 1442.69 464.30C1440.78 465.70 1437.54 467.14 1434.75 467.84C1431.95 468.53 1428.20 468.75 1425.92 468.45C1423.64 468.16 1422.24 467.35 1421.06 466.07C1419.88 464.79 1418.04 461.41 1418.85 460.77Z" fill="#000"/>
<path d="M1422.21 463.25C1422.35 462.80 1425.45 464.08 1427.68 464.04C1429.92 464.00 1433.10 463.67 1435.63 462.98C1438.16 462.29 1441.99 459.89 1442.87 459.89C1443.75 459.89 1442.28 461.99 1440.93 462.98C1439.57 463.97 1437.10 465.19 1434.75 465.81C1432.39 466.42 1428.89 467.12 1426.80 466.69C1424.71 466.26 1422.06 463.69 1422.21 463.25Z" fill="#e7e7e7"/>
<path d="M1412.23 433.66C1412.30 433.49 1415.69 431.69 1417.53 431.02C1419.37 430.34 1421.99 429.57 1423.27 429.60C1424.55 429.63 1425.50 430.96 1425.21 431.19C1424.92 431.43 1422.86 430.87 1421.50 431.02C1420.15 431.16 1418.63 431.63 1417.09 432.08C1415.54 432.52 1412.16 433.84 1412.23 433.66Z" fill="#e7e7e7"/>
</g>
<text x="1374.1" y="505.9" font-size="14" textLength="96.6" lengthAdjust="spacingAndGlyphs" fill="#1e1e1e" >Notifications</text>
<path d="M1616.4 405.2L1619.5 519.4" fill="none" stroke="#1e1e1e" stroke-width="2.3" stroke-linecap="round"/>
<path d="M1612.2 500.8L1619.5 519.4L1625.8 500.4M1623.7 423.8L1616.4 405.2L1610.1 424.2" fill="none" stroke="#1e1e1e" stroke-width="1.7" stroke-linecap="round" stroke-linejoin="round"/>
<text x="1544.7" y="544.3" font-size="19.5" textLength="144.3" lengthAdjust="spacingAndGlyphs" fill="#1e1e1e" >LoadBalancer</text>
<g transform="translate(1613.7 579.3)">
<ellipse cx="0" cy="0" rx="28.2" ry="27.2" fill="#0180db" stroke="#0180db" stroke-width="1"/>
<g fill="none" stroke="#fff" stroke-width="2.8" stroke-linecap="round">
<circle cx="-16.5" cy="2.2" r="7"/>
<circle cx="10.2" cy="-12.6" r="5"/><circle cx="19.1" cy="2.2" r="5"/><circle cx="9" cy="16.1" r="5"/>
<path d="M-9.5 2.2L14 2.2M-1.4 2L7.6 -8.4M-1.4 2L6.6 11.8"/>
</g></g>
<text y="715.7" font-size="63" fill="#1e1e1e" stroke="#1e1e1e" stroke-width="0.7"><tspan x="1177.9" textLength="198.2" lengthAdjust="spacingAndGlyphs">Where</tspan> <tspan x="1406.6" textLength="145.6" lengthAdjust="spacingAndGlyphs">your</tspan> <tspan x="1579.6" textLength="366.6" lengthAdjust="spacingAndGlyphs">application</tspan> <tspan x="1970.8" textLength="148.8" lengthAdjust="spacingAndGlyphs">runs</tspan></text>
<text y="803.9" font-size="63" fill="#1e1e1e" stroke="#1e1e1e" stroke-width="0.7"><tspan x="1418.6" textLength="59.0" lengthAdjust="spacingAndGlyphs">in</tspan> <tspan x="1503.6" textLength="368.0" lengthAdjust="spacingAndGlyphs">production</tspan></text>
</svg>
</body></html>
